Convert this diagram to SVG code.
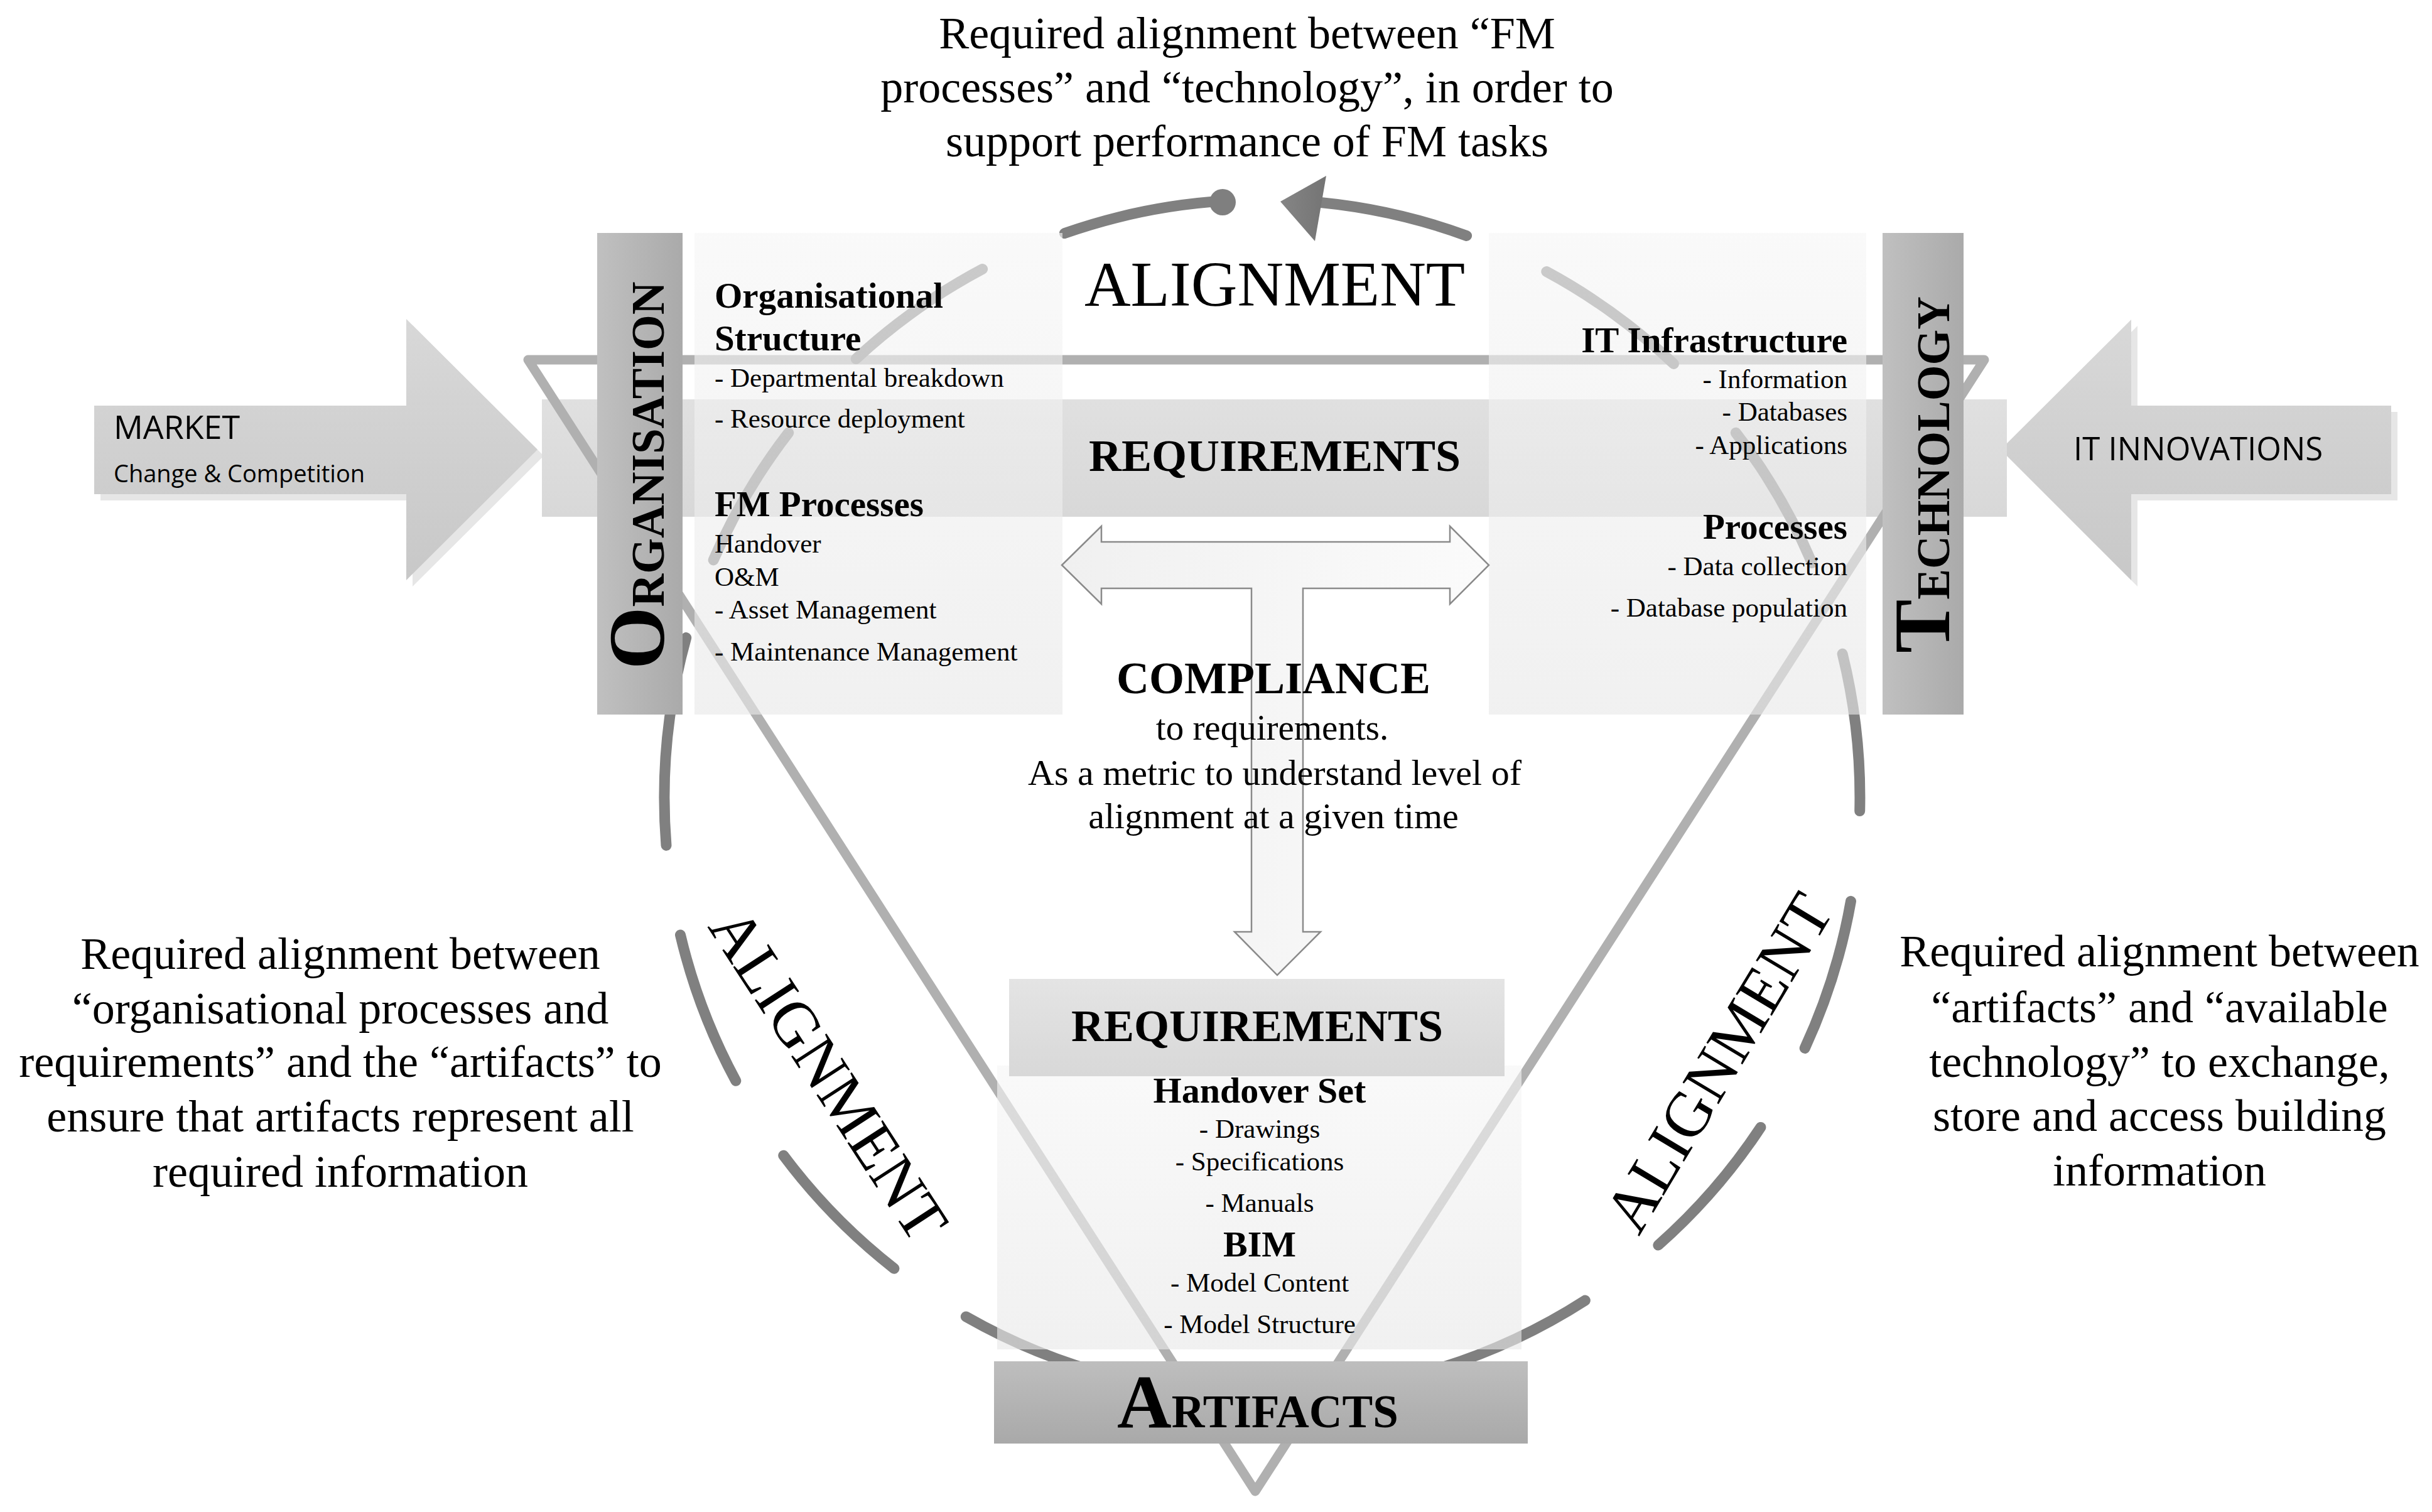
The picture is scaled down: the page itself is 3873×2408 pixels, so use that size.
<svg xmlns="http://www.w3.org/2000/svg" width="3873" height="2408" viewBox="0 0 3873 2408">
<defs>
<style>
.serif{font-family:"Liberation Serif","Times New Roman",serif;fill:#000}
.sans{font-family:"Open Sans","Liberation Sans",sans-serif;fill:#000}
.b{font-weight:bold}
.arc{fill:none;stroke:#808080;stroke-width:17;stroke-linecap:round}
.tri{fill:none;stroke:#b0b0b0;stroke-width:15;stroke-linejoin:round}
.panel{fill:url(#gPanel);opacity:0.63}
.shadow{fill:#e6e6e6}
</style>
<linearGradient id="gArrow" x1="0" y1="0" x2="0" y2="1"><stop offset="0" stop-color="#d8d8d8"/><stop offset="1" stop-color="#c8c8c8"/></linearGradient>
<linearGradient id="gBand" x1="0" y1="0" x2="0" y2="1"><stop offset="0" stop-color="#e0e0e0"/><stop offset="1" stop-color="#d8d8d8"/></linearGradient>
<linearGradient id="gPanel" x1="0" y1="0" x2="0" y2="1"><stop offset="0" stop-color="#f6f6f6"/><stop offset="1" stop-color="#e8e8e8"/></linearGradient>
<linearGradient id="gBar" x1="0" y1="0" x2="1" y2="0"><stop offset="0" stop-color="#c0c0c0"/><stop offset="1" stop-color="#aaaaaa"/></linearGradient>
<linearGradient id="gArt" x1="0" y1="0" x2="0" y2="1"><stop offset="0" stop-color="#bebebe"/><stop offset="1" stop-color="#a9a9a9"/></linearGradient>
<linearGradient id="gReq" x1="0" y1="0" x2="0" y2="1"><stop offset="0" stop-color="#e4e4e4"/><stop offset="1" stop-color="#d8d8d8"/></linearGradient>
<linearGradient id="gT" x1="0" y1="0" x2="1" y2="0"><stop offset="0" stop-color="#f0f0f0"/><stop offset="1" stop-color="#fbfbfb"/></linearGradient>
<linearGradient id="gHead" x1="0" y1="0" x2="1" y2="0"><stop offset="0" stop-color="#858585"/><stop offset="1" stop-color="#747474"/></linearGradient>
</defs>

<g id="node-market">
<path class="shadow" d="M160,656 L657,656 L657,518 L866,726 L657,934 L657,797 L160,797 Z"/>
<path fill="url(#gArrow)" d="M150,646 L647,646 L647,508 L856,716 L647,924 L647,787 L150,787 Z"/>
<text class="sans" x="181" y="699" font-size="52">MARKET</text>
<text class="sans" x="181" y="768" font-size="38">Change &amp; Competition</text>
</g>

<g id="node-it-innovations">
<path class="shadow" d="M3818,656 L3404,656 L3404,519 L3196,726 L3404,934 L3404,797 L3818,797 Z"/>
<path fill="url(#gArrow)" d="M3808,646 L3394,646 L3394,509 L3186,716 L3394,924 L3394,787 L3808,787 Z"/>
<text class="sans" x="3302" y="733" font-size="51">IT INNOVATIONS</text>
</g>

<g id="requirements-band">
<rect x="863" y="636" width="2333" height="187" fill="url(#gBand)"/>
</g>

<g id="connectors">
<polygon class="tri" points="841,573 3160,573 1999,2375"/>
<path class="arc" d="M1695.4,371.5 A952,952 0 0 1 1946.9,320.1"/>
<circle cx="1947" cy="322" r="21" fill="#7f7f7f"/>
<path class="arc" d="M2076.4,320.3 A952,952 0 0 1 2335.6,375.4"/>
<polygon points="2039,321 2112,280 2094,384" fill="url(#gHead)"/>
<path class="arc" d="M2462.8,432.6 A952,952 0 0 1 2665.4,579.4"/>
<path class="arc" d="M2764.3,689.2 A952,952 0 0 1 2885.6,896.5"/>
<path class="arc" d="M2934.1,1041.3 A952,952 0 0 1 2961.7,1291.6"/>
<path class="arc" d="M2947.5,1435.3 A952,952 0 0 1 2874.2,1669.4"/>
<path class="arc" d="M2803.9,1795.4 A952,952 0 0 1 2640.8,1983.0"/>
<path class="arc" d="M2524.3,2071.1 A952,952 0 0 1 1538.3,2096.9"/>
<path class="arc" d="M1423.9,2020.2 A952,952 0 0 1 1247.7,1840.2"/>
<path class="arc" d="M1171.8,1721.3 A952,952 0 0 1 1083.5,1489.0"/>
<path class="arc" d="M1061.0,1346.4 A952,952 0 0 1 1092.7,1015.6"/>
<path class="arc" d="M1136.2,891.9 A952,952 0 0 1 1255.7,689.2"/>
<path class="arc" d="M1363.2,571.5 A952,952 0 0 1 1564.6,428.6"/>
</g>

<g id="node-organisation-panel">
<rect class="panel" x="1106" y="371" width="586" height="767"/>
<text class="serif b" x="1138" y="490" font-size="57">Organisational</text>
<text class="serif b" x="1138" y="558" font-size="57">Structure</text>
<text class="serif" x="1138" y="616" font-size="43">- Departmental breakdown</text>
<text class="serif" x="1138" y="681" font-size="43">- Resource deployment</text>
<text class="serif b" x="1138" y="822" font-size="57">FM Processes</text>
<text class="serif" x="1138" y="880" font-size="43">Handover</text>
<text class="serif" x="1138" y="933" font-size="43">O&amp;M</text>
<text class="serif" x="1138" y="985" font-size="43">- Asset Management</text>
<text class="serif" x="1138" y="1052" font-size="43">- Maintenance Management</text>
</g>

<g id="node-technology-panel">
<rect class="panel" x="2371" y="371" width="601" height="767"/>
<g text-anchor="end">
<text class="serif b" x="2942" y="561" font-size="57">IT Infrastructure</text>
<text class="serif" x="2942" y="618" font-size="43">- Information</text>
<text class="serif" x="2942" y="670" font-size="43">- Databases</text>
<text class="serif" x="2942" y="723" font-size="43">- Applications</text>
<text class="serif b" x="2942" y="858" font-size="57">Processes</text>
<text class="serif" x="2942" y="916" font-size="43">- Data collection</text>
<text class="serif" x="2942" y="982" font-size="43">- Database population</text>
</g>
</g>

<g id="compliance-arrow">
<path fill="url(#gT)" stroke="#8a8a8a" stroke-width="2.5" stroke-linejoin="miter" d="M1691,900 L1754,838 L1754,863 L2309,863 L2309,838 L2371,900 L2309,962 L2309,937 L2075,937 L2075,1484 L2103,1484 L2034,1553 L1966,1484 L1993,1484 L1993,937 L1754,937 L1754,962 Z"/>
</g>

<g id="node-artifacts-panel">
<rect class="panel" x="1588" y="1697" width="835" height="452"/>
<rect x="1607" y="1559" width="789" height="155" fill="url(#gReq)"/>
<g text-anchor="middle">
<text class="serif b" x="2002" y="1658" font-size="72">REQUIREMENTS</text>
<text class="serif b" x="2006" y="1756" font-size="58">Handover Set</text>
<text class="serif" x="2006" y="1812" font-size="43">- Drawings</text>
<text class="serif" x="2006" y="1864" font-size="43">- Specifications</text>
<text class="serif" x="2006" y="1930" font-size="43">- Manuals</text>
<text class="serif b" x="2006" y="2001" font-size="58">BIM</text>
<text class="serif" x="2006" y="2057" font-size="43">- Model Content</text>
<text class="serif" x="2006" y="2123" font-size="43">- Model Structure</text>
</g>
</g>

<g id="node-organisation">
<rect x="951" y="371" width="136" height="767" fill="url(#gBar)"/>
<g transform="translate(1057,1066) rotate(-90)">
<text class="serif b" x="0" y="0" font-size="128">O<tspan font-size="73">RGANISATION</tspan></text>
</g>
</g>

<g id="node-technology">
<rect x="2998" y="371" width="129" height="767" fill="url(#gBar)"/>
<g transform="translate(3104,1040) rotate(-90)">
<text class="serif b" x="0" y="0" font-size="128">T<tspan font-size="73">ECHNOLOGY</tspan></text>
</g>
</g>

<g id="node-artifacts">
<rect x="1583" y="2168" width="850" height="131" fill="url(#gArt)"/>
<text class="serif b" x="1779" y="2273" font-size="120">A<tspan font-size="73">RTIFACTS</tspan></text>
</g>

<g id="center-labels" text-anchor="middle">
<text class="serif" x="2030" y="487" font-size="102">ALIGNMENT</text>
<text class="serif b" x="2030" y="750" font-size="72">REQUIREMENTS</text>
<text class="serif b" x="2028" y="1104" font-size="72">COMPLIANCE</text>
<text class="serif" x="2026" y="1178" font-size="57">to requirements.</text>
<text class="serif" x="2030" y="1250" font-size="58">As a metric to understand level of</text>
<text class="serif" x="2028" y="1319" font-size="58">alignment at a given time</text>
</g>

<g id="alignment-left">
<text class="serif" text-anchor="middle" font-size="102" transform="translate(1291,1730) rotate(57)">ALIGNMENT</text>
</g>
<g id="alignment-right">
<text class="serif" text-anchor="middle" font-size="102" transform="translate(2766,1710) rotate(-59)">ALIGNMENT</text>
</g>

<g id="note-top" text-anchor="middle">
<text class="serif" x="1986" y="77" font-size="72">Required alignment between “FM</text>
<text class="serif" x="1986" y="163" font-size="72">processes” and “technology”, in order to</text>
<text class="serif" x="1986" y="249" font-size="72">support performance of FM tasks</text>
</g>

<g id="note-left" text-anchor="middle">
<text class="serif" x="542" y="1543" font-size="72">Required alignment between</text>
<text class="serif" x="542" y="1630" font-size="72">“organisational processes and</text>
<text class="serif" x="542" y="1715" font-size="72">requirements” and the “artifacts” to</text>
<text class="serif" x="542" y="1802" font-size="72">ensure that artifacts represent all</text>
<text class="serif" x="542" y="1890" font-size="72">required information</text>
</g>

<g id="note-right" text-anchor="middle">
<text class="serif" x="3439" y="1539" font-size="72">Required alignment between</text>
<text class="serif" x="3439" y="1628" font-size="72">“artifacts” and “available</text>
<text class="serif" x="3439" y="1715" font-size="72">technology” to exchange,</text>
<text class="serif" x="3439" y="1801" font-size="72">store and access building</text>
<text class="serif" x="3439" y="1888" font-size="72">information</text>
</g>
</svg>
